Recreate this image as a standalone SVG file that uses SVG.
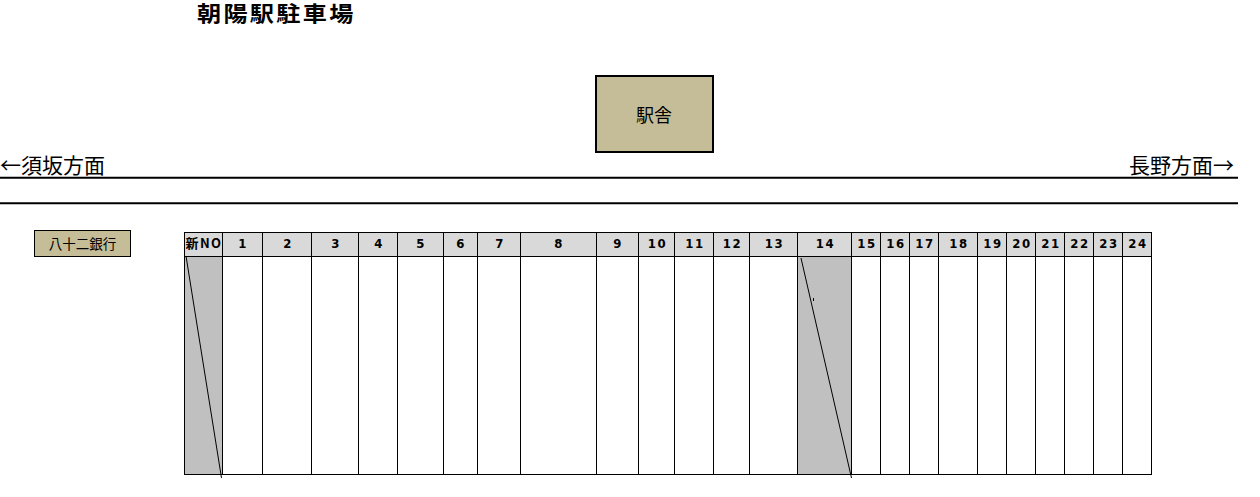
<svg xmlns="http://www.w3.org/2000/svg" width="1260" height="497" viewBox="0 0 1260 497">
<style>
.hdr{fill:#D9D9D9;stroke:#000;stroke-width:1}
.body{fill:#FFFFFF;stroke:#000;stroke-width:1}
.shade{fill:#C0C0C0;stroke:#000;stroke-width:1}
.num{font-family:"DejaVu Sans Condensed","DejaVu Sans","Liberation Sans",sans-serif;font-weight:bold;font-size:13px;text-anchor:middle;letter-spacing:1.5px;fill:#000}
.jp{font-family:"Noto Sans CJK JP","Noto Sans CJK SC",sans-serif;fill:#000}
.tag{fill:#C4BD97;stroke:#000}
.diag{stroke:#000;stroke-width:1;fill:none}
.track{stroke:#000;stroke-width:2}
</style>
<rect width="1260" height="497" fill="#FFFFFF"/>
<g id="title"><text class="jp" transform="translate(197,21) scale(1.15,1)" x="0" y="0" font-size="21" font-weight="bold" letter-spacing="2">朝陽駅駐車場</text></g>
<g id="station"><rect class="tag" x="596" y="76" width="117" height="76" stroke-width="2"/><text class="jp" x="654" y="122" font-size="18" text-anchor="middle">駅舎</text></g>
<g id="direction-left"><text class="jp" x="0" y="173" font-size="21">←須坂方面</text></g>
<g id="direction-right"><text class="jp" x="1234" y="173" font-size="21" text-anchor="end">長野方面→</text></g>
<g id="track"><line class="track" x1="0" y1="177.7" x2="1238" y2="177.7"/><line class="track" x1="0" y1="203.3" x2="1238" y2="203.3"/></g>
<g id="bank"><rect class="tag" x="34.5" y="230.5" width="96" height="26" stroke-width="1"/><text class="jp" x="82.5" y="249" font-size="13.5" text-anchor="middle">八十二銀行</text></g>
<g id="parking">
<g id="col-new"><rect class="hdr" x="184.5" y="232.5" width="38" height="24"/><rect class="shade" x="184.5" y="256.5" width="38" height="218"/><text class="num jp" x="204" y="248" font-weight="bold" font-size="13" letter-spacing="1" text-anchor="middle">新NO</text></g>
<g id="col-1"><rect class="hdr" x="222.5" y="232.5" width="40" height="24"/><rect class="body" x="222.5" y="256.5" width="40" height="218"/><text class="num" x="243" y="248">1</text></g>
<g id="col-2"><rect class="hdr" x="262.5" y="232.5" width="49" height="24"/><rect class="body" x="262.5" y="256.5" width="49" height="218"/><text class="num" x="288" y="248">2</text></g>
<g id="col-3"><rect class="hdr" x="311.5" y="232.5" width="47" height="24"/><rect class="body" x="311.5" y="256.5" width="47" height="218"/><text class="num" x="336" y="248">3</text></g>
<g id="col-4"><rect class="hdr" x="358.5" y="232.5" width="39" height="24"/><rect class="body" x="358.5" y="256.5" width="39" height="218"/><text class="num" x="379" y="248">4</text></g>
<g id="col-5"><rect class="hdr" x="397.5" y="232.5" width="46" height="24"/><rect class="body" x="397.5" y="256.5" width="46" height="218"/><text class="num" x="421" y="248">5</text></g>
<g id="col-6"><rect class="hdr" x="443.5" y="232.5" width="34" height="24"/><rect class="body" x="443.5" y="256.5" width="34" height="218"/><text class="num" x="461" y="248">6</text></g>
<g id="col-7"><rect class="hdr" x="477.5" y="232.5" width="43" height="24"/><rect class="body" x="477.5" y="256.5" width="43" height="218"/><text class="num" x="500" y="248">7</text></g>
<g id="col-8"><rect class="hdr" x="520.5" y="232.5" width="76" height="24"/><rect class="body" x="520.5" y="256.5" width="76" height="218"/><text class="num" x="559" y="248">8</text></g>
<g id="col-9"><rect class="hdr" x="596.5" y="232.5" width="42" height="24"/><rect class="body" x="596.5" y="256.5" width="42" height="218"/><text class="num" x="618" y="248">9</text></g>
<g id="col-10"><rect class="hdr" x="638.5" y="232.5" width="36" height="24"/><rect class="body" x="638.5" y="256.5" width="36" height="218"/><text class="num" x="657.5" y="248">10</text></g>
<g id="col-11"><rect class="hdr" x="674.5" y="232.5" width="39" height="24"/><rect class="body" x="674.5" y="256.5" width="39" height="218"/><text class="num" x="695" y="248">11</text></g>
<g id="col-12"><rect class="hdr" x="713.5" y="232.5" width="36" height="24"/><rect class="body" x="713.5" y="256.5" width="36" height="218"/><text class="num" x="732.5" y="248">12</text></g>
<g id="col-13"><rect class="hdr" x="749.5" y="232.5" width="48" height="24"/><rect class="body" x="749.5" y="256.5" width="48" height="218"/><text class="num" x="774.5" y="248">13</text></g>
<g id="col-14"><rect class="hdr" x="797.5" y="232.5" width="54" height="24"/><rect class="shade" x="797.5" y="256.5" width="54" height="218"/><text class="num" x="825.5" y="248">14</text></g>
<g id="col-15"><rect class="hdr" x="851.5" y="232.5" width="29" height="24"/><rect class="body" x="851.5" y="256.5" width="29" height="218"/><text class="num" x="867" y="248">15</text></g>
<g id="col-16"><rect class="hdr" x="880.5" y="232.5" width="29" height="24"/><rect class="body" x="880.5" y="256.5" width="29" height="218"/><text class="num" x="896" y="248">16</text></g>
<g id="col-17"><rect class="hdr" x="909.5" y="232.5" width="29" height="24"/><rect class="body" x="909.5" y="256.5" width="29" height="218"/><text class="num" x="925" y="248">17</text></g>
<g id="col-18"><rect class="hdr" x="938.5" y="232.5" width="39" height="24"/><rect class="body" x="938.5" y="256.5" width="39" height="218"/><text class="num" x="959" y="248">18</text></g>
<g id="col-19"><rect class="hdr" x="977.5" y="232.5" width="29" height="24"/><rect class="body" x="977.5" y="256.5" width="29" height="218"/><text class="num" x="993" y="248">19</text></g>
<g id="col-20"><rect class="hdr" x="1006.5" y="232.5" width="29" height="24"/><rect class="body" x="1006.5" y="256.5" width="29" height="218"/><text class="num" x="1022" y="248">20</text></g>
<g id="col-21"><rect class="hdr" x="1035.5" y="232.5" width="29" height="24"/><rect class="body" x="1035.5" y="256.5" width="29" height="218"/><text class="num" x="1051" y="248">21</text></g>
<g id="col-22"><rect class="hdr" x="1064.5" y="232.5" width="29" height="24"/><rect class="body" x="1064.5" y="256.5" width="29" height="218"/><text class="num" x="1080" y="248">22</text></g>
<g id="col-23"><rect class="hdr" x="1093.5" y="232.5" width="29" height="24"/><rect class="body" x="1093.5" y="256.5" width="29" height="218"/><text class="num" x="1109" y="248">23</text></g>
<g id="col-24"><rect class="hdr" x="1122.5" y="232.5" width="29" height="24"/><rect class="body" x="1122.5" y="256.5" width="29" height="218"/><text class="num" x="1138" y="248">24</text></g>
</g>
<g id="connectors">
<line class="diag" x1="186" y1="256" x2="221.5" y2="478"/>
<line class="diag" x1="801" y1="258" x2="851.5" y2="478"/>
<line class="diag" x1="813.5" y1="298" x2="813.5" y2="301"/>
</g>
</svg>
